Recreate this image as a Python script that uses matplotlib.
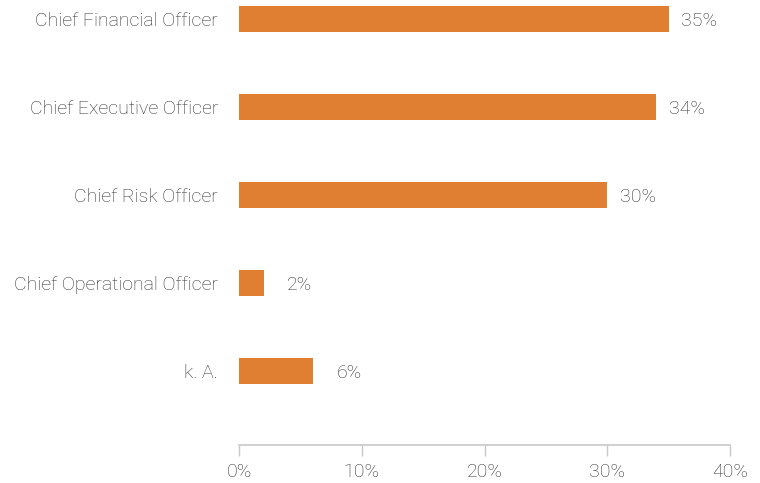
import matplotlib
matplotlib.use("Agg")
import matplotlib.pyplot as plt
from matplotlib.ticker import FuncFormatter

roles = ["Chief Financial Officer", "Chief Executive Officer", "Chief Risk Officer",
         "Chief Operational Officer", "k. A."]
shares = [35, 34, 30, 2, 6]
x_ticks = [0, 10, 20, 30, 40]

bar_color = "#E07E32"
text_color = "#333333"
axis_color = "#C8C8C8"

plt.rcParams['font.family'] = ['Roboto', 'DejaVu Sans']
plt.rcParams['font.weight'] = 'light'
fsize = 14

fig = plt.figure(figsize=(7.6, 4.83), dpi=100)
ax = fig.add_axes([239 / 760, 38 / 483, (730 - 239) / 760, 445 / 483])

ypos = list(range(len(roles)))
ax.barh(ypos, shares, height=0.3, color=bar_color)

# value labels sit right-aligned a fixed distance past each bar end
for y, v in zip(ypos, shares):
    ax.annotate(f"{v}%", xy=(v, y), xytext=(49, -2), textcoords="offset pixels",
                ha="right", va="center", fontsize=fsize, color=text_color)

ax.set_xlim(0, 40)
ax.set_ylim(4 + 74 / 88, -19 / 88)
ax.set_yticks(ypos)
ax.set_yticklabels(roles)
ax.set_xticks(x_ticks)
ax.xaxis.set_major_formatter(FuncFormatter(lambda v, _: f"{v:.0f}%"))

for side in ["top", "right", "left"]:
    ax.spines[side].set_visible(False)
ax.spines["bottom"].set_color(axis_color)
ax.spines["bottom"].set_linewidth(1.2)

ax.tick_params(axis="y", length=0, pad=15, labelsize=fsize, labelcolor=text_color)
ax.tick_params(axis="x", length=8, width=1, color=axis_color, pad=5,
               labelsize=fsize, labelcolor=text_color)

fig.savefig("out.png", dpi=100)
